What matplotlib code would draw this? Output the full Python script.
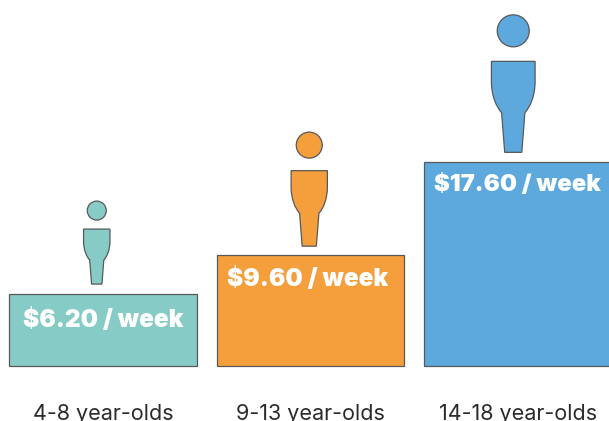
import matplotlib
matplotlib.use('Agg')
import matplotlib.pyplot as plt
from matplotlib.patches import Ellipse, PathPatch
from matplotlib.path import Path

# data
groups = ['4-8 year-olds', '9-13 year-olds', '14-18 year-olds']
spend = [6.20, 9.60, 17.60]
value_labels = ['$6.20 / week', '$9.60 / week', '$17.60 / week']

# colours
COLORS = ['#86CBC6', '#F49F3C', '#5DA9DE']
EDGE = '#58585A'
FG = '#2B2B2B'

W, H = 609, 421
BASE_PX = 366       # pixel row of the bar baseline
PX_PER_DOLLAR = 11.6

# person sizes: height of body, gap over the bar, head radius, head gap, head x shift
PEOPLE = [
    dict(h=55.0, gap=10.0, r=9.5, head_gap=9.0, dx=-6.5),
    dict(h=75.5, gap=8.5, r=13.0, head_gap=12.5, dx=-1.5),
    dict(h=91.0, gap=9.5, r=16.0, head_gap=14.5, dx=-5.0),
]

# body outline in units of body height, x from the centre, y from the feet
BODY = [
    (Path.MOVETO, (-0.24, 1.0)),
    (Path.LINETO, (0.24, 1.0)),
    (Path.LINETO, (0.24, 0.78)),
    (Path.CURVE4, (0.24, 0.62)),
    (Path.CURVE4, (0.185, 0.50)),
    (Path.CURVE4, (0.128, 0.435)),
    (Path.LINETO, (0.094, 0.0)),
    (Path.LINETO, (-0.094, 0.0)),
    (Path.LINETO, (-0.128, 0.435)),
    (Path.CURVE4, (-0.185, 0.50)),
    (Path.CURVE4, (-0.24, 0.62)),
    (Path.CURVE4, (-0.24, 0.78)),
    (Path.CLOSEPOLY, (-0.24, 1.0)),
]

plt.rcParams['font.family'] = ['Inter', 'DejaVu Sans']

fig = plt.figure(figsize=(W / 100, H / 100), dpi=100)
ax = fig.add_axes([0, 0, 1, 1])
ax.set_xlim(0, W)
ax.set_ylim((BASE_PX - H) / PX_PER_DOLLAR, BASE_PX / PX_PER_DOLLAR)
ax.axis('off')

x_pos = [102.85, 310.35, 517.85]
ax.bar(x_pos, spend, width=187.5, color=COLORS, edgecolor=EDGE, linewidth=0.9)

label_x = [103.5, 308.0, 517.5]
label_drop = [33.0, 31.0, 29.5]     # px from bar top to text baseline
label_size = [17.5, 17.5, 17.2]
group_x = [103.0, 310.0, 518.0]

for i, (x, val, lab, grp, col, p) in enumerate(zip(x_pos, spend, value_labels, groups, COLORS, PEOPLE)):
    # person standing over the bar
    cx = x + p['dx'] + 0.4
    feet = val + p['gap'] / PX_PER_DOLLAR
    codes = [c for c, _ in BODY]
    verts = [(cx + vx * p['h'], feet + vy * p['h'] / PX_PER_DOLLAR) for _, (vx, vy) in BODY]
    ax.add_patch(PathPatch(Path(verts, codes), facecolor=col, edgecolor=EDGE, linewidth=0.9))
    head_y = feet + (p['h'] + p['head_gap'] + p['r']) / PX_PER_DOLLAR
    ax.add_patch(Ellipse((cx, head_y), 2 * p['r'], 2 * p['r'] / PX_PER_DOLLAR,
                         facecolor=col, edgecolor=EDGE, linewidth=0.9))

    # value inside the bar, group name below
    ax.text(label_x[i], val - label_drop[i] / PX_PER_DOLLAR, lab, ha='center', va='baseline',
            color='white', fontsize=label_size[i], fontweight='black')
    ax.text(group_x[i], -54.5 / PX_PER_DOLLAR, grp, ha='center', va='baseline',
            color=FG, fontsize=15.5)

fig.savefig('out.png', dpi=100, facecolor='white')
